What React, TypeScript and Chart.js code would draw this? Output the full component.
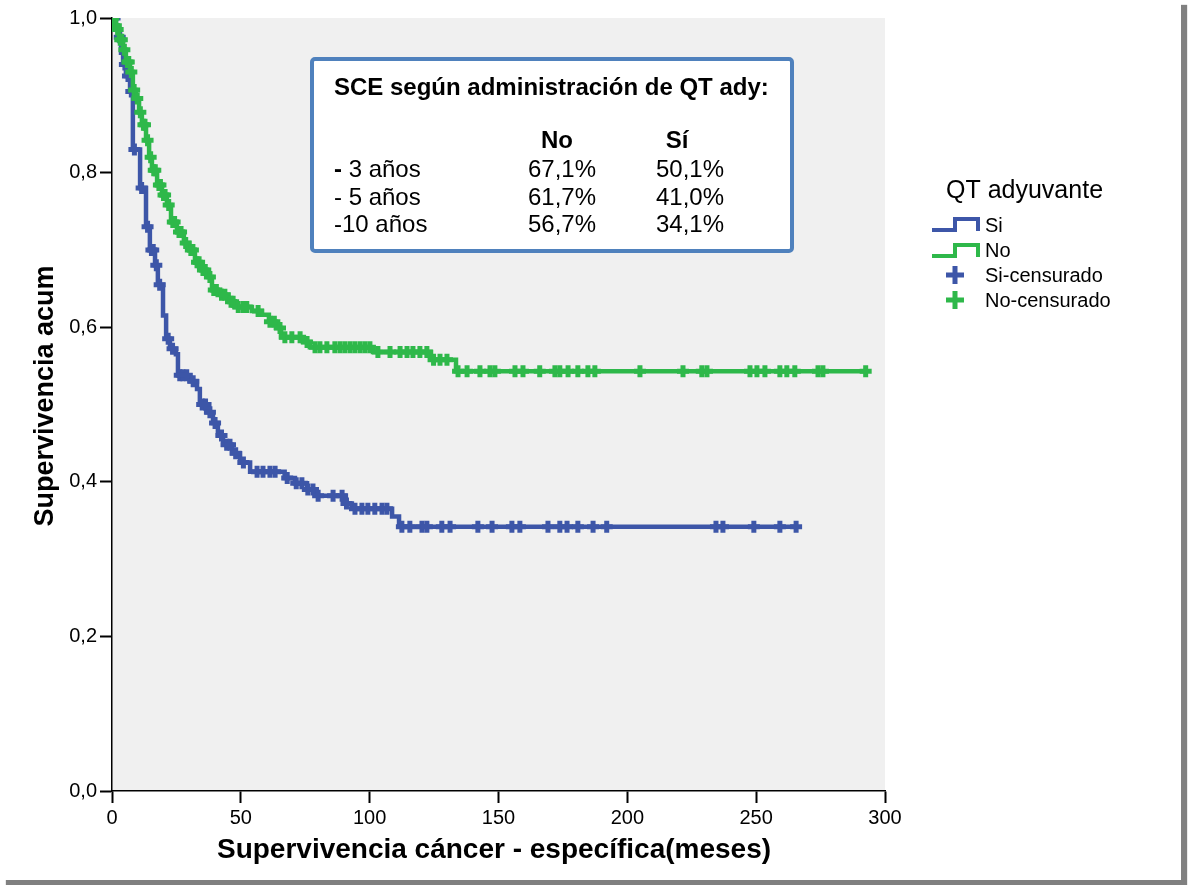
import React, { useEffect, useRef } from "react";
import { Chart, registerables } from "chart.js";

Chart.register(...registerables);

const FONT = '"Liberation Sans", Arial, Helvetica, sans-serif';
const BLUE = "#3d56a8";
const GREEN = "#2eb84a";
const BOX_BLUE = "#4f81bd";

// Kaplan–Meier estimate, QT adyuvante = Si: event times (months) and survival after each event
const siEventTimes = [1.5, 2.3, 3.5, 4.3, 5.4, 7.0, 8.1, 10.9, 13.2, 14.7, 16.7, 17.8, 19.8, 21.0, 22.5, 24.8, 25.6, 30.3, 33.0, 34.1, 36.9, 39.2, 41.1, 43.1, 46.6, 49.7, 53.6, 67.0, 71.0, 75.7, 79.2, 90.4, 93.1, 108.7, 111.4];
const siSurvival = [0.99, 0.975, 0.955, 0.94, 0.925, 0.905, 0.83, 0.78, 0.73, 0.7, 0.68, 0.655, 0.615, 0.585, 0.572, 0.565, 0.538, 0.53, 0.52, 0.5, 0.49, 0.476, 0.46, 0.448, 0.437, 0.425, 0.413, 0.405, 0.398, 0.39, 0.382, 0.372, 0.365, 0.355, 0.342];
const siCensored = [1.0, 3.0, 5.0, 6.2, 7.5, 8.7, 11.5, 13.8, 15.3, 16.0, 17.2, 18.5, 21.8, 23.5, 26.3, 27.5, 29.0, 31.5, 35.0, 36.3, 38.0, 40.0, 42.5, 44.5, 45.8, 48.0, 51.0, 56.3, 58.6, 61.3, 63.3, 68.0, 71.5, 73.7, 76.0, 78.0, 80.0, 85.8, 89.3, 91.0, 94.3, 97.0, 99.3, 102.0, 104.8, 106.7, 112.5, 115.6, 120.3, 122.2, 128.0, 131.2, 142.0, 147.5, 155.2, 158.3, 169.2, 173.8, 176.6, 180.8, 186.7, 192.0, 234.4, 237.1, 249.1, 259.2, 265.5];

// QT adyuvante = No
const noEventTimes = [1.0, 1.9, 2.7, 4.3, 5.4, 7.0, 8.1, 9.3, 10.5, 11.6, 13.2, 14.4, 15.5, 17.5, 19.4, 21.3, 22.9, 25.2, 27.9, 29.9, 32.2, 34.5, 37.3, 38.8, 41.9, 45.0, 47.7, 54.3, 58.2, 60.9, 63.6, 65.6, 74.1, 76.8, 101.3, 123.8, 133.5];
const noSurvival = [0.99, 0.985, 0.972, 0.959, 0.943, 0.93, 0.907, 0.896, 0.878, 0.862, 0.842, 0.82, 0.803, 0.784, 0.771, 0.758, 0.736, 0.723, 0.709, 0.7, 0.684, 0.674, 0.665, 0.648, 0.642, 0.633, 0.626, 0.621, 0.616, 0.607, 0.599, 0.587, 0.581, 0.574, 0.568, 0.558, 0.543];
const noCensored = [0.5, 1.5, 2.2, 3.2, 3.8, 4.8, 6.0, 6.5, 7.5, 8.6, 9.8, 11.0, 12.2, 12.8, 13.8, 15.0, 16.2, 16.8, 18.2, 18.8, 20.0, 20.6, 22.0, 23.6, 24.3, 26.0, 26.8, 28.6, 30.6, 31.4, 33.0, 33.8, 35.3, 36.2, 38.0, 39.5, 40.5, 42.5, 43.8, 46.2, 47.0, 49.0, 51.0, 52.3, 56.7, 61.3, 63.0, 65.2, 67.1, 69.8, 73.0, 75.7, 78.8, 80.7, 83.4, 86.5, 88.5, 90.4, 92.4, 94.3, 96.3, 98.2, 100.1, 103.2, 107.9, 111.8, 114.5, 116.8, 119.5, 122.2, 124.8, 127.3, 130.0, 134.3, 137.8, 142.8, 146.7, 148.6, 156.4, 159.5, 166.0, 171.9, 173.8, 177.0, 180.8, 184.7, 187.4, 204.9, 221.6, 228.9, 230.9, 247.6, 250.3, 253.4, 259.2, 261.9, 265.0, 274.0, 275.9, 292.5];

const xTickValues = [0, 50, 100, 150, 200, 250, 300];
const yTickValues = [0, 0.2, 0.4, 0.6, 0.8, 1.0];

const legendTitle = "QT adyuvante";
const legendLabels = ["Si", "No", "Si-censurado", "No-censurado"];

const boxTitle = "SCE según administración de QT ady:";
const boxHeaders = ["No", "Sí"];
const boxRows = ["- 3 años", "- 5 años", "-10 años"];
const boxNo = ["67,1%", "61,7%", "56,7%"];
const boxSi = ["50,1%", "41,0%", "34,1%"];

const xTitle = "Supervivencia cáncer - específica(meses)";
const yTitle = "Supervivencia acum";

function survivalAt(times: number[], surv: number[], t: number) {
  let s = 1;
  for (let i = 0; i < times.length; i++) if (times[i] <= t) s = surv[i];
  return s;
}

function curve(times: number[], surv: number[], censored: number[]) {
  const end = censored[censored.length - 1];
  return [
    { x: 0, y: 1 },
    ...times.map((t, i) => ({ x: t, y: surv[i] })),
    { x: end, y: survivalAt(times, surv, end) },
  ];
}

function marks(times: number[], surv: number[], censored: number[]) {
  return censored.map((t) => ({ x: t, y: survivalAt(times, surv, t) }));
}

const decorations = {
  id: "decorations",
  beforeDraw(chart: any) {
    const { ctx, chartArea: a } = chart;
    ctx.save();
    ctx.fillStyle = "#f0f0f0";
    ctx.fillRect(a.left, a.top, a.right - a.left, a.bottom - a.top);
    ctx.restore();
  },
  afterDraw(chart: any) {
    const { ctx } = chart;
    ctx.save();

    // axis titles
    ctx.fillStyle = "#000";
    ctx.textAlign = "center";
    ctx.textBaseline = "middle";
    ctx.font = `bold 28px ${FONT}`;
    ctx.fillText(xTitle, 494, 850);
    ctx.save();
    ctx.translate(46, 396);
    ctx.rotate(-Math.PI / 2);
    ctx.font = `bold 27px ${FONT}`;
    ctx.fillText(yTitle, 0, 0);
    ctx.restore();

    // summary box
    ctx.fillStyle = "#fff";
    ctx.strokeStyle = BOX_BLUE;
    ctx.lineWidth = 4;
    ctx.beginPath();
    ctx.roundRect(312, 59, 480, 192, 3);
    ctx.fill();
    ctx.stroke();

    ctx.fillStyle = "#000";
    ctx.textBaseline = "alphabetic";
    ctx.textAlign = "left";
    ctx.font = `bold 24px ${FONT}`;
    ctx.fillText(boxTitle, 334, 95);
    ctx.textAlign = "center";
    ctx.fillText(boxHeaders[0], 557, 148);
    ctx.fillText(boxHeaders[1], 677, 148);
    const rowY = [177, 205, 232];
    ctx.font = `24px ${FONT}`;
    boxRows.forEach((label, i) => {
      ctx.textAlign = "left";
      if (i === 0) {
        ctx.font = `bold 24px ${FONT}`;
        ctx.fillText(label[0], 334, rowY[i]);
        const w = ctx.measureText(label[0]).width;
        ctx.font = `24px ${FONT}`;
        ctx.fillText(label.slice(1), 334 + w, rowY[i]);
      } else {
        ctx.fillText(label, 334, rowY[i]);
      }
      ctx.fillText(boxNo[i], 528, rowY[i]);
      ctx.fillText(boxSi[i], 656, rowY[i]);
    });

    // legend
    ctx.font = `25px ${FONT}`;
    ctx.fillText(legendTitle, 946, 198);
    const colors = [BLUE, GREEN];
    ctx.lineWidth = 4;
    ctx.lineCap = "butt";
    ctx.lineJoin = "miter";
    [0, 1].forEach((i) => {
      const y = 230 + i * 26;
      ctx.strokeStyle = colors[i];
      ctx.beginPath();
      ctx.moveTo(932, y);
      ctx.lineTo(955, y);
      ctx.lineTo(955, y - 11);
      ctx.lineTo(978, y - 11);
      ctx.lineTo(978, y + 1);
      ctx.stroke();
    });
    ctx.lineWidth = 5;
    [0, 1].forEach((i) => {
      const cy = 275 + i * 25;
      ctx.strokeStyle = colors[i];
      ctx.beginPath();
      ctx.moveTo(946, cy);
      ctx.lineTo(964, cy);
      ctx.moveTo(955, cy - 9);
      ctx.lineTo(955, cy + 9);
      ctx.stroke();
    });
    ctx.fillStyle = "#000";
    ctx.font = `20px ${FONT}`;
    const labelY = [232, 257, 282, 307];
    legendLabels.forEach((l, i) => ctx.fillText(l, 985, labelY[i]));

    ctx.restore();
  },
};

export default function App() {
  const ref = useRef<HTMLCanvasElement>(null);

  useEffect(() => {
    const chart = new Chart(ref.current!, {
      type: "line",
      data: {
        datasets: [
          {
            label: "No-censurado",
            data: marks(noEventTimes, noSurvival, noCensored),
            showLine: false,
            pointStyle: "cross",
            pointRadius: 6,
            pointBorderWidth: 5,
            borderColor: GREEN,
            backgroundColor: GREEN,
          },
          {
            label: "No",
            data: curve(noEventTimes, noSurvival, noCensored),
            stepped: "before",
            borderColor: GREEN,
            borderWidth: 4.5,
            pointRadius: 0,
            fill: false,
          },
          {
            label: "Si-censurado",
            data: marks(siEventTimes, siSurvival, siCensored),
            showLine: false,
            pointStyle: "cross",
            pointRadius: 6,
            pointBorderWidth: 5,
            borderColor: BLUE,
            backgroundColor: BLUE,
          },
          {
            label: "Si",
            data: curve(siEventTimes, siSurvival, siCensored),
            stepped: "before",
            borderColor: BLUE,
            borderWidth: 4.5,
            pointRadius: 0,
            fill: false,
          },
        ] as any,
      },
      options: {
        responsive: false,
        animation: false,
        devicePixelRatio: 1,
        parsing: false,
        layout: { padding: { top: 18, right: 296, left: 0, bottom: 0 } },
        plugins: { legend: { display: false }, tooltip: { enabled: false } },
        scales: {
          x: {
            type: "linear",
            min: 0,
            max: 300,
            afterBuildTicks: (s: any) => {
              s.ticks = xTickValues.map((v) => ({ value: v }));
            },
            afterFit: (s: any) => {
              s.height = 89;
            },
            ticks: {
              color: "#000",
              font: { family: FONT, size: 20 },
              padding: 3,
              maxRotation: 0,
              autoSkip: false,
            },
            grid: {
              drawOnChartArea: false,
              tickLength: 12,
              tickWidth: 2,
              tickColor: "#000",
            },
            border: { color: "#000", width: 1.5 },
          },
          y: {
            type: "linear",
            min: 0,
            max: 1,
            afterBuildTicks: (s: any) => {
              s.ticks = yTickValues.map((v) => ({ value: v }));
            },
            afterFit: (s: any) => {
              s.width = 112;
            },
            ticks: {
              color: "#000",
              font: { family: FONT, size: 20 },
              padding: 3,
              autoSkip: false,
              callback: (v: any) => Number(v).toFixed(1).replace(".", ","),
            },
            grid: {
              drawOnChartArea: false,
              tickLength: 12,
              tickWidth: 2,
              tickColor: "#000",
            },
            border: { color: "#000", width: 1.5 },
          },
        },
      } as any,
      plugins: [decorations],
    });
    return () => chart.destroy();
  }, []);

  return (
    <div style={{ position: "absolute", left: 0, top: 0, width: 1188, height: 885, background: "#fff" }}>
      <div
        style={{
          position: "absolute",
          left: 0,
          top: 0,
          width: 1181,
          height: 880,
          background: "#fff",
          boxShadow: "6px 5px 1px #808080",
        }}
      >
        <canvas ref={ref} width={1181} height={880} style={{ display: "block", width: 1181, height: 880 }} />
      </div>
    </div>
  );
}
